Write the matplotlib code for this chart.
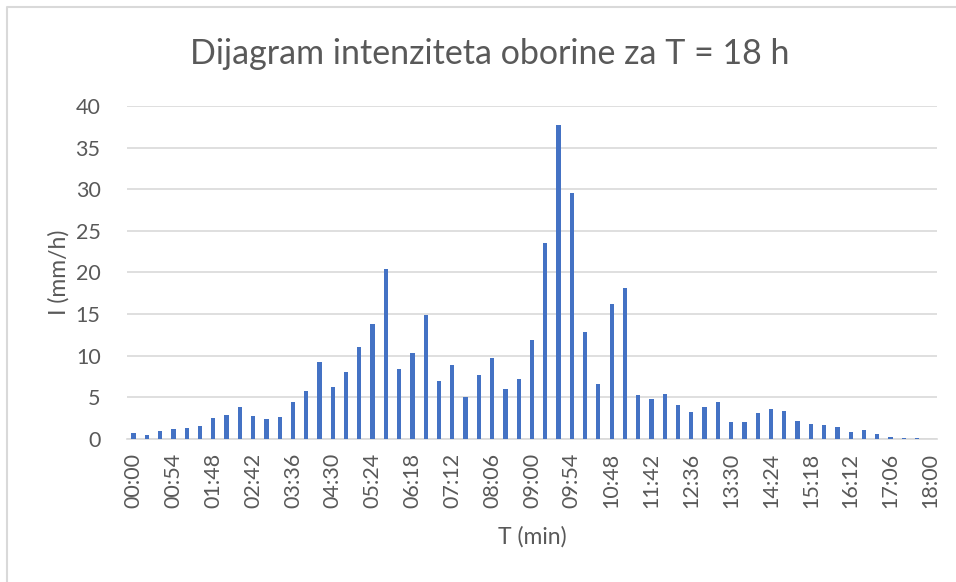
import matplotlib.pyplot as plt
from matplotlib.lines import Line2D

# Rainfall intensity for an 18 h storm, 18 min steps
minutes = list(range(0, 1081, 18))
categories = ['%02d:%02d' % (m // 60, m % 60) for m in minutes]
intensity = [0.7, 0.45, 0.95, 1.2, 1.3, 1.55, 2.5, 2.9, 3.8, 2.75,
             2.35, 2.6, 4.5, 5.75, 9.25, 6.3, 8.0, 11.05, 13.8, 20.4,
             8.35, 10.35, 14.85, 6.95, 8.85, 5.05, 7.65, 9.75, 6.0, 7.25,
             11.9, 23.5, 37.7, 29.5, 12.8, 6.65, 16.25, 18.1, 5.25, 4.8,
             5.45, 4.1, 3.2, 3.9, 4.5, 2.05, 2.05, 3.1, 3.6, 3.4,
             2.15, 1.85, 1.7, 1.5, 0.85, 1.1, 0.6, 0.3, 0.15, 0.08, 0.0]
yticks = [0, 5, 10, 15, 20, 25, 30, 35, 40]

txt = '#595959'
grid = '#D9D9D9'
plt.rcParams['font.family'] = ['Lato', 'DejaVu Sans']

fig = plt.figure(figsize=(9.56, 5.82), dpi=100)
ax = fig.add_axes([0.1328, 0.2457, 0.8473, 0.5722])

x = list(range(len(categories)))
ax.bar(x, intensity, width=0.32, color='#4472C4', zorder=3)

ax.set_xlim(-0.5, len(categories) - 0.5)
ax.set_ylim(0, 40)
ax.set_yticks(yticks)
ax.set_xticks(x[::3])
ax.set_xticklabels(categories[::3], rotation=90)
ax.tick_params(axis='both', length=0, colors=txt, labelsize=15.5)
ax.tick_params(axis='y', pad=19)
ax.tick_params(axis='x', pad=10)
ax.grid(axis='y', color=grid, linewidth=1.2, zorder=0)
for s in ['top', 'right', 'left']:
    ax.spines[s].set_visible(False)
ax.spines['bottom'].set_color(grid)
ax.spines['bottom'].set_linewidth(1.2)

ax.set_xlabel('T (min)', fontsize=16.5, color=txt, labelpad=13)
ax.set_ylabel('I (mm/h)', fontsize=16.5, color=txt, labelpad=4)
fig.text(0.512, 0.907, 'Dijagram intenziteta oborine za T = 18 h',
         ha='center', va='center', fontsize=24.5, color=txt)

# chart area border (only left and top visible in the crop)
fig.add_artist(Line2D([7 / 956, 7 / 956, 1.0], [0.0, 1 - 7 / 582, 1 - 7 / 582],
                      transform=fig.transFigure, color='#D9D9D9', linewidth=1.5))

plt.savefig('out.png', dpi=100)
